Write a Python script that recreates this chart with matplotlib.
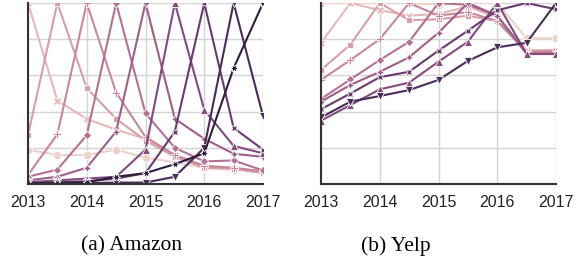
import matplotlib
matplotlib.use("Agg")
import matplotlib.pyplot as plt
import numpy as np
import seaborn as sns

# half-year steps from 2013 to 2017
years = [2013, 2013.5, 2014, 2014.5, 2015, 2015.5, 2016, 2016.5, 2017]
tick_years = [2013, 2014, 2015, 2016, 2017]
tick_labels = ["2013", "2014", "2015", "2016", "2017"]

# Amazon, one list per cohort (light -> dark)
amazon_0 = [0.19, 0.16, 0.16, 0.19, 0.145, 0.12, 0.088, 0.078, 0.065]
amazon_1 = [1.0, 0.46, 0.36, 0.30, 0.25, 0.16, 0.10, 0.085, 0.065]
amazon_2 = [0.27, 1.0, 0.53, 0.36, 0.24, 0.15, 0.09, 0.085, 0.06]
amazon_3 = [0.05, 0.275, 1.0, 0.505, 0.26, 0.16, 0.10, 0.09, 0.07]
amazon_4 = [0.04, 0.08, 0.27, 1.0, 0.39, 0.20, 0.125, 0.13, 0.075]
amazon_5 = [0.02, 0.04, 0.09, 0.29, 1.0, 0.36, 0.25, 0.167, 0.15]
amazon_6 = [0.01, 0.02, 0.03, 0.04, 0.19, 1.0, 0.41, 0.21, 0.17]
amazon_7 = [0.005, 0.01, 0.015, 0.03, 0.06, 0.29, 1.0, 0.31, 0.19]
amazon_8 = [0.005, 0.005, 0.005, 0.008, 0.008, 0.04, 0.20, 1.0, 0.376]
amazon_9 = [0.003, 0.005, 0.01, 0.04, 0.06, 0.11, 0.17, 0.64, 1.0]

# Yelp
yelp_0 = [1.0, 1.0, 1.0, 1.0, 0.99, 1.0, 1.0, 0.805, 0.805]
yelp_1 = [0.78, 1.0, 0.96, 0.93, 0.94, 0.98, 0.92, 0.74, 0.74]
yelp_2 = [0.63, 0.77, 1.0, 0.905, 0.91, 0.93, 0.90, 0.73, 0.74]
yelp_3 = [0.575, 0.685, 0.80, 1.0, 0.93, 0.95, 0.90, 0.73, 0.73]
yelp_4 = [0.47, 0.578, 0.685, 0.786, 1.0, 0.99, 0.93, 0.72, 0.72]
yelp_5 = [0.455, 0.547, 0.62, 0.70, 0.836, 1.0, 0.93, 0.72, 0.72]
yelp_6 = [0.35, 0.436, 0.523, 0.56, 0.676, 0.786, 1.0, 0.718, 0.718]
yelp_7 = [0.413, 0.50, 0.59, 0.62, 0.737, 0.847, 0.96, 1.0, 0.965]
yelp_8 = [0.368, 0.455, 0.486, 0.519, 0.575, 0.68, 0.755, 0.78, 1.0]

amazon = [amazon_0, amazon_1, amazon_2, amazon_3, amazon_4,
          amazon_5, amazon_6, amazon_7, amazon_8, amazon_9]
yelp = [yelp_0, yelp_1, yelp_2, yelp_3, yelp_4,
        yelp_5, yelp_6, yelp_7, yelp_8]

# seaborn's default marker sequence
markers = ["o", "X", (4, 0, 45), "P", (4, 0, 0), (4, 1, 0), "^", (4, 1, 45), "v", (6, 1, 30)]
colors = sns.cubehelix_palette(10)

fig = plt.figure(figsize=(5.76, 2.6), dpi=100)
ax1 = fig.add_axes([28 / 576, 1 - 184 / 260, 235 / 576, 181 / 260])
ax2 = fig.add_axes([321 / 576, 1 - 184 / 260, 235 / 576, 181 / 260])

for ax, data in [(ax1, amazon), (ax2, yelp)]:
    for i, vals in enumerate(data):
        ax.plot(years, vals, color=colors[i], marker=markers[i], markersize=6,
                markeredgecolor="white", markeredgewidth=0.6, linewidth=1.5, zorder=3 + i)
    ax.set_xlim(2013, 2017)
    ax.set_ylim(0, 1)
    ax.set_xticks(tick_years)
    ax.set_xticklabels(tick_labels, fontfamily="Liberation Sans", fontsize=11.5)
    ax.set_yticks([0, 0.2, 0.4, 0.6, 0.8, 1.0])
    ax.set_yticklabels([])
    ax.tick_params(length=0, pad=8, labelcolor="#222222")
    ax.grid(True, color="#d4d4d4", linewidth=1)
    ax.set_axisbelow(True)
    for s in ["top", "right"]:
        ax.spines[s].set_visible(False)
    for s in ["left", "bottom"]:
        ax.spines[s].set_color("#333333")
        ax.spines[s].set_linewidth(1.5)
        ax.spines[s].set_zorder(20)

fig.text(131.5 / 576, 1 - 246 / 260, "(a) Amazon", ha="center", va="center",
         fontfamily="Liberation Serif", fontsize=15.5)
fig.text(396 / 576, 1 - 246 / 260, "(b) Yelp", ha="center", va="center",
         fontfamily="Liberation Serif", fontsize=15.5)

fig.savefig("out.png", dpi=100)
